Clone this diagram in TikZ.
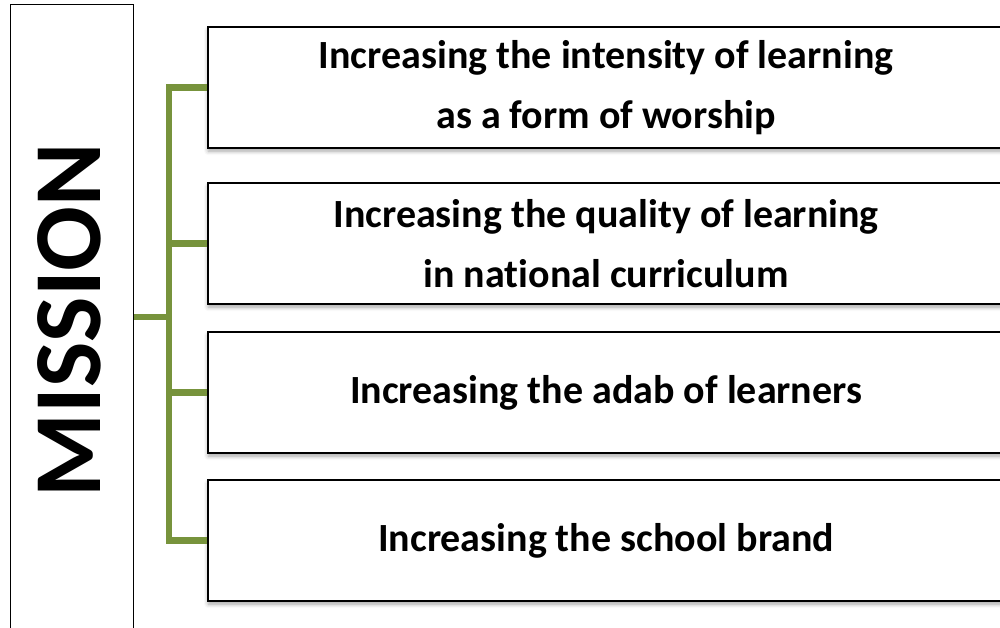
\documentclass[tikz,border=0pt]{standalone}
\usepackage{fontspec}
\setmainfont[Ligatures=NoCommon]{Carlito}
\usetikzlibrary{shadows.blur}
\definecolor{olive}{HTML}{77933C}
\tikzset{
  itembox/.style={draw=black, line width=2.2pt, fill=white, rectangle,
    minimum width=796pt, minimum height=121pt, anchor=north west,
    inner sep=0pt, align=center,
    font=\fontsize{40}{60}\selectfont\bfseries,
    blur shadow={shadow xshift=0pt, shadow yshift=-3pt, shadow blur radius=4pt, shadow opacity=35}},
  titlebox/.style={draw=black, line width=1.3pt, fill=white, rectangle,
    minimum width=123pt, minimum height=640pt, anchor=north west, inner sep=0pt},
  titletext/.style={rotate=90, font=\fontsize{96}{100}\selectfont\bfseries, inner sep=0pt},
  link/.style={draw=olive, line width=6.5pt, line join=miter, line cap=butt}
}
\begin{document}
\begin{tikzpicture}[x=1pt,y=-1pt]
  \useasboundingbox (0,0) rectangle (1000,627);
  % title column
  \node[titlebox] (mission) at (10,4) {};
  \node[titletext] (missiontext) at (69,320) {MISSION};
  % mission items
  \node[itembox] (b1) at (207,26)  {Increasing the intensity of learning\\as a form of worship};
  \node[itembox] (b2) at (207,182) {Increasing the quality of learning\\in national curriculum};
  \node[itembox] (b3) at (207,331) {Increasing the adab of learners};
  \node[itembox] (b4) at (207,479) {Increasing the school brand};
  % connectors
  \coordinate (bus) at (169,317);
  \draw[link] (mission.east |- bus) -- (bus);
  \draw[link] (b1.west) -| (bus) |- (b4.west);
  \draw[link] (b2.west) -- (b2.west -| bus);
  \draw[link] (b3.west) -- (b3.west -| bus);
\end{tikzpicture}
\end{document}
